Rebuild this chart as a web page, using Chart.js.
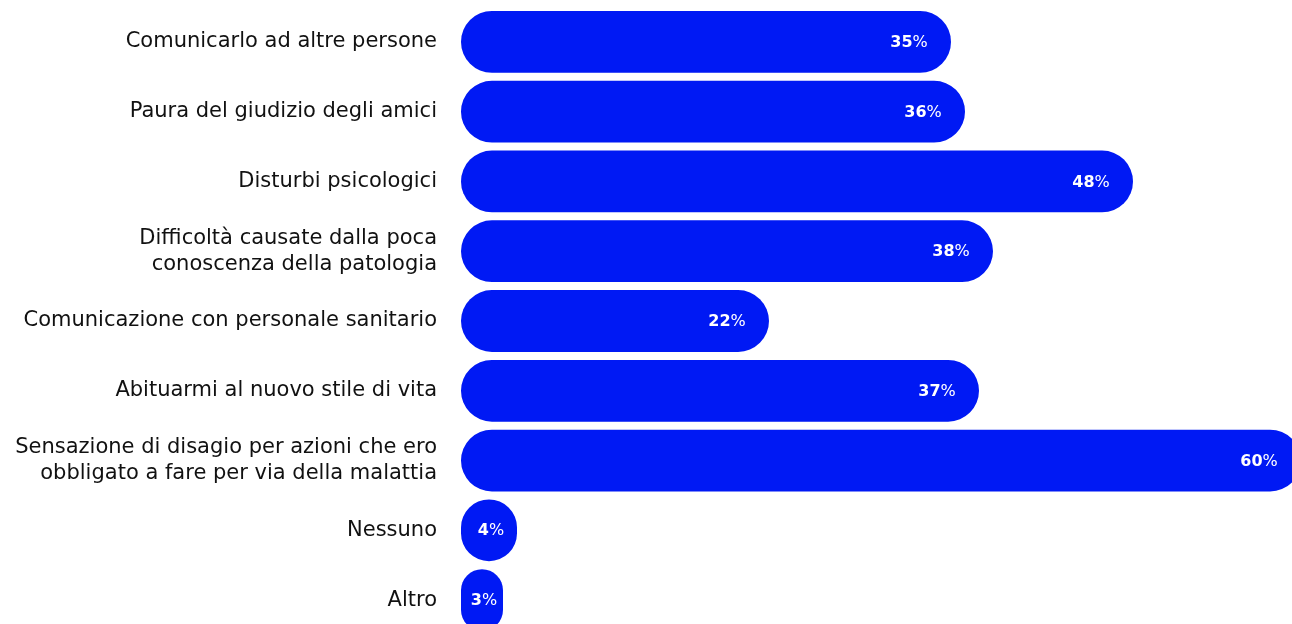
<!DOCTYPE html>
<html>
<head>
<meta charset="utf-8">
<script src="https://cdn.jsdelivr.net/npm/chart.js@4/dist/chart.umd.min.js"></script>
<style>
  html, body { margin: 0; padding: 0; background: #fff; overflow: hidden; }
  canvas { display: block; }
</style>
</head>
<body>
<canvas id="chart" width="1320" height="640"></canvas>
<script>
// ostacoli riportati (% di risposte)
const categories = [
    'Comunicarlo ad altre persone',
    'Paura del giudizio degli amici',
    'Disturbi psicologici',
    ['Difficoltà causate dalla poca', 'conoscenza della patologia'],
    'Comunicazione con personale sanitario',
    'Abituarmi al nuovo stile di vita',
    ['Sensazione di disagio per azioni che ero', 'obbligato a fare per via della malattia'],
    'Nessuno',
    'Altro'
];
const values = [35, 36, 48, 38, 22, 37, 60, 4, 3];

const BLUE = '#0019f4';
const FONT = '"DejaVu Sans", sans-serif';

// numero in grassetto + "%" normale, dentro la barra vicino alla fine
const valueLabels = {
    id: 'valueLabels',
    afterDatasetsDraw(chart) {
        const ctx = chart.ctx;
        const meta = chart.getDatasetMeta(0);
        ctx.save();
        ctx.fillStyle = '#fff';
        ctx.textBaseline = 'middle';
        ctx.textAlign = 'left';
        meta.data.forEach((bar, i) => {
            const num = String(values[i]);
            ctx.font = 'bold 16px ' + FONT;
            const wNum = ctx.measureText(num).width;
            ctx.font = 'normal 16px ' + FONT;
            const wPct = ctx.measureText('%').width;
            const total = wNum + wPct;
            const mid = (bar.base + bar.x) / 2 + 2;
            const cx = Math.max(bar.x - 42, mid);
            const x = cx - total / 2;
            ctx.font = 'bold 16px ' + FONT;
            ctx.fillText(num, x, bar.y + 1);
            ctx.font = 'normal 16px ' + FONT;
            ctx.fillText('%', x + wNum, bar.y + 1);
        });
        ctx.restore();
    }
};

new Chart(document.getElementById('chart'), {
    type: 'bar',
    data: {
        labels: categories,
        datasets: [{
            data: values,
            backgroundColor: BLUE,
            borderRadius: 31,
            borderSkipped: false,
            barPercentage: 0.885,
            categoryPercentage: 1
        }]
    },
    options: {
        indexAxis: 'y',
        responsive: false,
        animation: false,
        layout: { padding: { top: 7, bottom: 5, left: 0, right: 19 } },
        scales: {
            x: {
                display: false,
                min: 0,
                max: 60
            },
            y: {
                grid: { display: false, drawTicks: false },
                border: { display: false },
                afterFit(scale) {
                    scale.width = 461;
                    // niente margine extra sopra/sotto per le etichette
                    scale.paddingTop = 0;
                    scale.paddingBottom = 0;
                },
                ticks: {
                    padding: 24,
                    color: '#111',
                    font: { family: FONT, size: 21, lineHeight: 1.24 }
                }
            }
        },
        plugins: {
            legend: { display: false },
            tooltip: { enabled: false }
        }
    },
    plugins: [valueLabels]
});
</script>
</body>
</html>
